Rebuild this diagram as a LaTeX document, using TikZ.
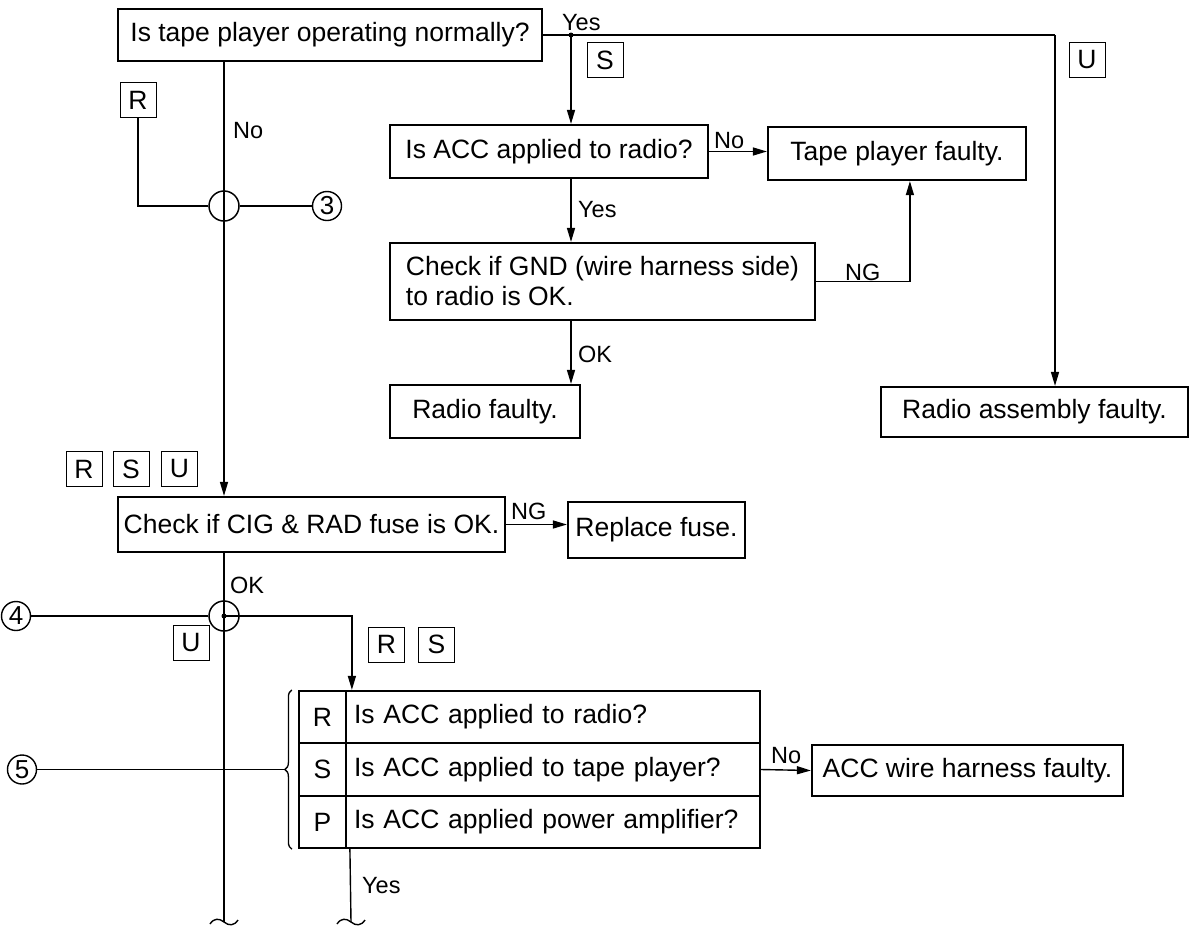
\documentclass[tikz,border=0pt]{standalone}
\usepackage{fontspec}
\setmainfont{Liberation Sans}
\usetikzlibrary{arrows.meta,calc,decorations.pathreplacing}
\newcommand\fbig{\fontsize{26.5}{30}\selectfont}
\newcommand\flab{\fontsize{23.5}{27}\selectfont}
\newcommand\fnum{\fontsize{26}{28}\selectfont}
\newcommand\mybox[6]{\node[bx, minimum width={(#4)-(#2)}, minimum height={(#5)-(#3)}] (#1) at ({((#2)+(#4))/2},{((#3)+(#5))/2}) {#6};}
\begin{document}
\begin{tikzpicture}[x=1pt,y=-1pt,
  bx/.style={draw, line width=2.2pt, inner sep=2pt, font=\fbig},
  cell/.style={draw, line width=2.2pt, inner ysep=0pt, inner xsep=8pt, font=\fbig},
  tag/.style={draw, line width=1pt, minimum width=36, minimum height=35, inner sep=0pt, font=\fbig},
  cnum/.style={circle, draw, line width=1.4pt, minimum size=29, inner sep=0pt, font=\fnum},
  ring/.style={circle, draw, line width=1.5pt, minimum size=30, inner sep=0pt},
  conn/.style={line width=1.4pt},
  arr/.style={conn, -{Triangle[length=14pt,width=8pt]}},
  lab/.style={font=\flab, inner sep=0pt, anchor=base west},
  brk/.pic={\draw[line width=1.4pt] (-14,2) .. controls (-10,-4) and (-5,-4) .. (0,0) .. controls (5,4) and (10,4) .. (14,-2);}
]
\useasboundingbox (0,0) rectangle (1193,927);

% boxes
\mybox{top}{118}{9}{542}{61}{Is tape player operating normally?}
\mybox{acc}{390}{125}{708}{178}{Is ACC applied to radio?}
\mybox{tpf}{768}{127}{1026}{180}{Tape player faulty.}
\node[bx, align=left, minimum width=425, minimum height=77] (gnd) at (602.5,281.5) {Check if GND (wire harness side)\\to radio is OK.};
\mybox{rf}{390}{385}{580}{438}{Radio faulty.}
\mybox{rasm}{881}{387}{1188}{437}{Radio assembly faulty.}
\mybox{cig}{118}{497}{505}{552}{Check if CIG \& RAD fuse is OK.}
\mybox{rep}{568}{502}{745}{558}{Replace fuse.}
\mybox{accw}{812}{745}{1123}{796}{ACC wire harness faulty.}

% table
\node[cell, minimum width=47, minimum height=52] (tR) at (322.5,717) {R};
\node[cell, minimum width=47, minimum height=53] (tS) at (322.5,769.5) {S};
\node[cell, minimum width=47, minimum height=52] (tP) at (322.5,822) {P};
\node[cell, text width=398, align=left, minimum height=52] (qR) at (553,717) {Is ACC applied to radio?};
\node[cell, text width=398, align=left, minimum height=53] (qS) at (553,769.5) {Is ACC applied to tape player?};
\node[cell, text width=398, align=left, minimum height=52] (qP) at (553,822) {Is ACC applied power amplifier?};

% tags
\node[tag] (tgR1) at (138,100) {R};
\node[tag] (tgS1) at (605,60) {S};
\node[tag] (tgU1) at (1087,60) {U};
\node[tag] (tgR2) at (84,469) {R};
\node[tag] (tgS2) at (131,469) {S};
\node[tag] (tgU2) at (179.5,469) {U};
\node[tag] (tgU3) at (191,643) {U};
\node[tag] (tgR3) at (386.5,644.5) {R};
\node[tag] (tgS3) at (436.5,644.5) {S};

% rings and numbered circles
\node[ring] (cA) at (224,206) {};
\node[ring] (cB) at (224,616) {};
\node[cnum] (n3) at (327,206) {3};
\node[cnum] (n4) at (16,616) {4};
\node[cnum] (n5) at (22,769.5) {5};

% labels
\node[lab] (lyes1) at (562,30) {Yes};
\node[lab] (lno1) at (233,138) {No};
\node[lab] (lno2) at (714,148) {No};
\node[lab] (lyes2) at (578,217) {Yes};
\node[lab] (lng1) at (845,280) {NG};
\node[lab] (lok1) at (578,362) {OK};
\node[lab] (lng2) at (511,519) {NG};
\node[lab] (lok2) at (230,593) {OK};
\node[lab] (lno3) at (771,763) {No};
\node[lab] (lyes3) at (362,893) {Yes};

% connectors
\coordinate (yj) at (571,35);
\coordinate (yc) at (1055,35);
\draw[conn] (top.east) -- (yc);
\draw[arr] (yc) -- (yc |- rasm.north);
\fill (yj) circle (2.5pt);
\draw[arr] (yj) -- (yj |- acc.north);
\draw[arr] (acc.east) -- (acc.east -| tpf.west);
\draw[arr] (acc.south -| yj) -- (gnd.north -| yj);
\draw[arr] (gnd.east) -| ($(tpf.south west)+(143,0)$);
\draw[arr] (gnd.south -| yj) -- (rf.north -| yj);

\draw[arr] (top.south -| cA) -- (cig.north -| cA);
\draw[conn] (tgR1.south) |- (cA.west);
\draw[conn] (cA.east) -- (n3.west);
\draw[arr] (cig.east) -- (cig.east -| rep.west);

\coordinate (endA) at (224,922);
\draw[conn] (cig.south -| cB) -- (endA);
\pic at (endA) {brk};
\draw[conn] (n4.east) -- (cB.west);
\fill (cB) circle (2.5pt);
\draw[arr] (cB.center) -| ($(qR.north west)+(7,0)$);
\draw[arr] (qS.east) -- (accw.west);

\coordinate (btip) at (286,769.5);
\draw[conn] (n5.east) -- (btip);
\draw[line width=1.3pt, decorate, decoration={brace, amplitude=7pt}] ($(tP.south west)+(-6,0)$) -- ($(tR.north west)+(-6,0)$);
\coordinate (endB) at (351,922);
\draw[conn] ($(qP.south west)+(5,0)$) -- (endB);
\pic at (endB) {brk};
\end{tikzpicture}
\end{document}
